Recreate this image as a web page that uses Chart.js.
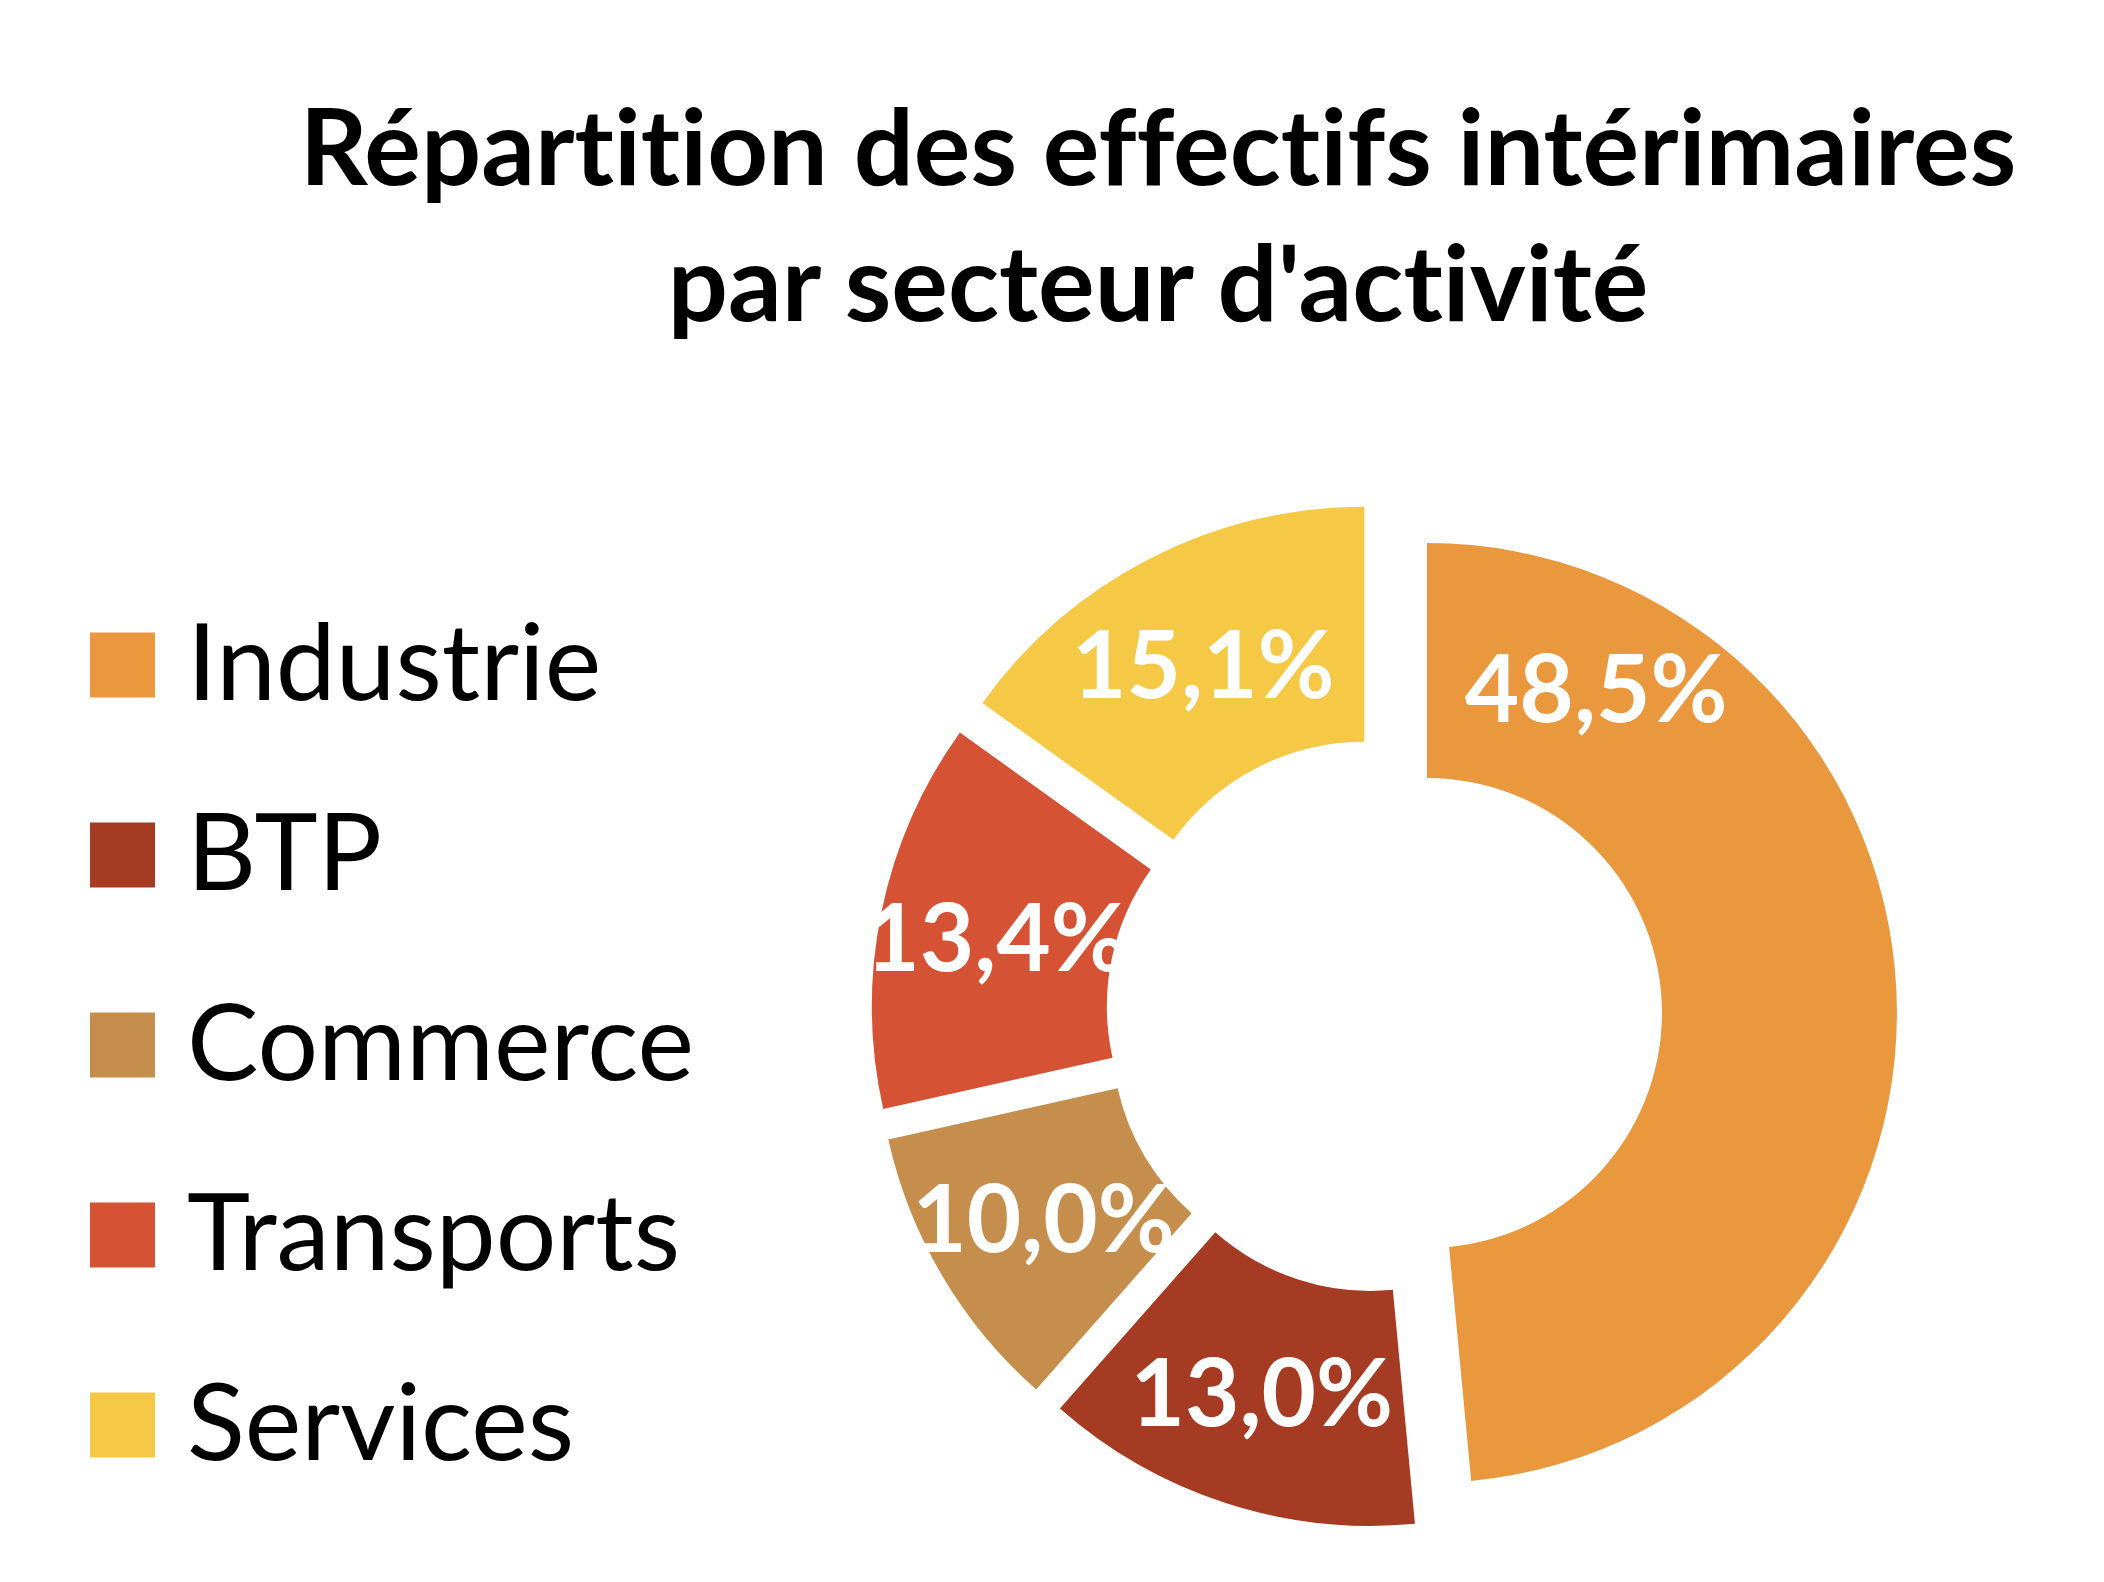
<!DOCTYPE html>
<html lang="fr">
<head>
<meta charset="utf-8">
<title>Répartition des effectifs intérimaires par secteur d'activité</title>
<script src="https://cdn.jsdelivr.net/npm/chart.js@4.4.1/dist/chart.umd.min.js"></script>
<style>
  html, body { margin: 0; padding: 0; background: #ffffff; overflow: hidden; }
  #wrap { position: relative; width: 2104px; height: 1582px; }
  #title {
    position: absolute; left: 0; top: 76px; width: 2316px;
    text-align: center; font-family: Lato, "Open Sans", sans-serif; font-weight: 700;
    font-size: 106px; line-height: 136px; color: #000000; margin: 0;
    font-variant-ligatures: none; font-feature-settings: "liga" 0, "clig" 0;
  }
  canvas { position: absolute; left: 0; top: 0; }
</style>
</head>
<body>
<div id="wrap">
  <canvas id="chart" width="2104" height="1582"></canvas>
  <h1 id="title">Répartition des effectifs intérimaires<br>par secteur d'activité</h1>
</div>
<script>
// ---- data ----
const categories = ['Industrie', 'BTP', 'Commerce', 'Transports', 'Services'];
const shares = [48.5, 13.0, 10.0, 13.4, 15.1];
const sliceColors = ['#E9983E', '#A53B22', '#C58E4C', '#D55334', '#F5C945'];

function formatPct(v) {
  return v.toFixed(1).replace('.', ',') + '%';
}

// pulls every slice outward along its own middle angle (exploded doughnut)
const explodePlugin = {
  id: 'explode',
  afterDatasetUpdate(chart, args, opts) {
    const d = opts.distance || 0;
    args.meta.data.forEach(arc => {
      const mid = (arc.startAngle + arc.endAngle) / 2;
      arc.x += d * Math.cos(mid);
      arc.y += d * Math.sin(mid);
    });
  }
};

// white percentage labels inside the ring
const sliceLabelPlugin = {
  id: 'sliceLabels',
  afterDatasetsDraw(chart, args, opts) {
    const ctx = chart.ctx;
    const meta = chart.getDatasetMeta(0);
    const values = chart.data.datasets[0].data;
    ctx.save();
    ctx.fillStyle = opts.color;
    ctx.font = opts.font;
    ctx.textAlign = 'center';
    ctx.textBaseline = 'middle';
    meta.data.forEach((arc, i) => {
      const f = (opts.anchor && opts.anchor[i] != null) ? opts.anchor[i] : 0.5;
      const extra = (opts.radialShift && opts.radialShift[i]) || 0;
      const a = arc.startAngle + f * (arc.endAngle - arc.startAngle);
      const r = (arc.innerRadius + arc.outerRadius) / 2 + extra;
      ctx.fillText(formatPct(values[i]), arc.x + r * Math.cos(a), arc.y + r * Math.sin(a) + (opts.dy || 0));
    });
    ctx.restore();
  }
};

function draw() {
  const legendFontSize = 107;
  const legendPad = 190 - legendFontSize;   // row pitch 190px
  const legendBoxW = 22;                    // layout width of the marker slot
  const padLeft = 111.5 - legendPad;
  const padBottom = 1582 - (665 - legendFontSize / 2 + 950);
  const padTop = 2 * 1015 - (1582 - padBottom);

  // width the legend will need (same measurement Chart.js does)
  const mctx = document.createElement('canvas').getContext('2d');
  mctx.font = 'normal ' + legendFontSize + 'px Lato';
  const maxText = Math.max(...categories.map(t => mctx.measureText(t).width));
  const legendWidth = legendPad + legendBoxW + legendFontSize / 2 + maxText + 10;
  const padRight = padLeft + legendWidth - 664;   // doughnut centre at x = 1384

  new Chart(document.getElementById('chart'), {
    type: 'doughnut',
    data: {
      labels: categories,
      datasets: [{
        data: shares,
        backgroundColor: sliceColors,
        borderWidth: 0,
        hoverOffset: 0
      }]
    },
    options: {
      responsive: false,
      animation: false,
      devicePixelRatio: 1,
      radius: 470,
      cutout: '50%',
      layout: { padding: { left: padLeft, right: padRight, top: padTop, bottom: padBottom } },
      events: [],
      plugins: {
        title: { display: false },
        tooltip: { enabled: false },
        legend: {
          position: 'left',
          align: 'end',
          fullSize: false,
          labels: {
            usePointStyle: true,
            pointStyle: 'rect',
            boxWidth: legendBoxW,
            boxHeight: 65,
            padding: legendPad,
            color: '#000000',
            font: { family: 'Lato', size: legendFontSize, weight: 'normal' }
          }
        },
        explode: { distance: 43 },
        sliceLabels: {
          color: '#ffffff',
          font: 'bold 94px Lato',
          dy: 5,
          anchor: [0.157, 0.5, 0.5, 0.5, 0.5],
          radialShift: [15, 0, 0, 0, 0]
        }
      }
    },
    plugins: [explodePlugin, sliceLabelPlugin]
  });
}

if (document.fonts && document.fonts.load) {
  Promise.all([
    document.fonts.load('107px Lato'),
    document.fonts.load('bold 94px Lato'),
    document.fonts.load('bold 106px Lato')
  ]).then(draw, draw);
} else {
  draw();
}
</script>
</body>
</html>
